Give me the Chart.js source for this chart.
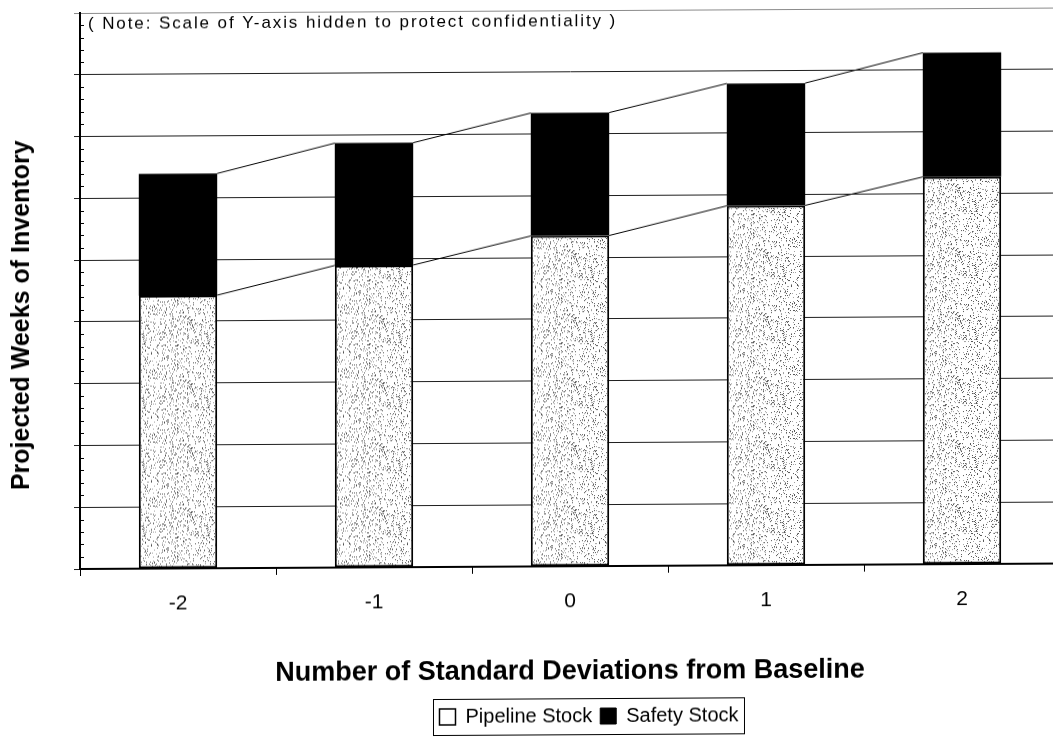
<!DOCTYPE html>
<html>
<head>
<meta charset="utf-8">
<script src="https://cdn.jsdelivr.net/npm/chart.js@4.4.1/dist/chart.umd.min.js"></script>
<style>
  html, body { margin: 0; padding: 0; background: #fff; overflow: hidden; }
  #wrap { width: 1053px; height: 739px; overflow: hidden; position: relative; }
  canvas { position: absolute; left: 0; top: 0; transform: skewY(-0.32deg); transform-origin: 80px 571px; }
</style>
</head>
<body>
<div id="wrap"><canvas id="chart" width="1070" height="739"></canvas></div>
<script>
// Categories: standard deviations away from the baseline forecast
const categories = ['-2', '-1', '0', '1', '2'];
// Stacked inventory components (weeks, unscaled units)
const pipelineStock = [4.42, 4.89, 5.35, 5.82, 6.27];
const safetyStock = [1.97, 1.98, 1.99, 1.98, 2.01];
// Value axis range (tick labels are intentionally hidden)
const yMin = 0;
const yMax = 9;
const yStep = 1;

const noteText = '( Note: Scale of Y-axis hidden to protect confidentiality )';
const yTitle = 'Projected Weeks of Inventory';
const xTitle = 'Number of Standard Deviations from Baseline';
const seriesNames = ['Pipeline Stock', 'Safety Stock'];

const FONT = "'Liberation Sans', Arial, Helvetica, sans-serif";
Chart.defaults.font.family = FONT;
Chart.defaults.color = '#000';

const canvas = document.getElementById('chart');
const ctx = canvas.getContext('2d');

// Grey speckle texture for the pipeline bars
function makeStipple() {
  const c = document.createElement('canvas');
  c.width = 64; c.height = 64;
  const g = c.getContext('2d');
  g.fillStyle = '#ffffff';
  g.fillRect(0, 0, 64, 64);
  for (let y = 0; y < 64; y++) {
    for (let x = 0; x < 64; x++) {
      const h = Math.abs(Math.sin(x * 12.9898 + y * 78.233) * 43758.5453) % 1;
      if (h < 0.07) { g.fillStyle = '#555555'; g.fillRect(x, y, 1, 1); }
      else if (h < 0.14) { g.fillStyle = '#a0a0a0'; g.fillRect(x, y, 1, 1); }
    }
  }
  return ctx.createPattern(c, 'repeat');
}
const stipple = makeStipple();

// Draws the note, minor ticks, series lines, rotated y title and legend frame
const decorations = {
  id: 'decorations',
  afterLayout(chart) {
    // move the legend a little to the right of the plot centre
    const lg = chart.legend;
    lg.left += 59; lg.right += 59;
  },
  beforeDatasetsDraw(chart) {
    const {ctx, chartArea, scales: {y}} = chart;
    ctx.save();
    ctx.strokeStyle = '#000';
    ctx.lineWidth = 1;
    for (let v = yMin; v < yMax; v += yStep) {
      for (let k = 1; k < 5; k++) {
        const py = Math.round(y.getPixelForValue(v + k * yStep / 5)) + 0.5;
        ctx.beginPath();
        ctx.moveTo(chartArea.left, py);
        ctx.lineTo(chartArea.left + 4, py);
        ctx.stroke();
      }
    }
    ctx.restore();
  },
  afterDatasetsDraw(chart) {
    const ctx = chart.ctx;
    ctx.save();
    ctx.strokeStyle = '#000';
    ctx.lineWidth = 1;
    chart.data.datasets.forEach((ds, i) => {
      const els = chart.getDatasetMeta(i).data;
      for (let k = 0; k < els.length - 1; k++) {
        const a = els[k], b = els[k + 1];
        ctx.beginPath();
        ctx.moveTo(a.x + a.width / 2, a.y);
        ctx.lineTo(b.x - b.width / 2, b.y);
        ctx.stroke();
      }
    });
    ctx.restore();
  },
  afterDraw(chart) {
    const {ctx, chartArea} = chart;
    ctx.save();
    // note inside the plot area
    ctx.fillStyle = '#000';
    ctx.font = '17px ' + FONT;
    ctx.textBaseline = 'middle';
    ctx.textAlign = 'left';
    if ('letterSpacing' in ctx) ctx.letterSpacing = '1.9px';
    ctx.fillText(noteText, chartArea.left + 8, chartArea.top + 11);
    if ('letterSpacing' in ctx) ctx.letterSpacing = '0px';
    // vertical axis title
    ctx.translate(22, 315);
    ctx.rotate(-Math.PI / 2);
    ctx.font = 'bold 25px ' + FONT;
    ctx.textAlign = 'center';
    ctx.fillText(yTitle, 0, 0);
    ctx.restore();
    // frame around the legend
    const lg = chart.legend;
    const hb = lg.legendHitBoxes;
    if (hb && hb.length) {
      const last = hb[hb.length - 1];
      const l = Math.round(hb[0].left - 6) + 0.5;
      const r = Math.round(last.left + last.width + 5) + 0.5;
      ctx.save();
      ctx.strokeStyle = '#000';
      ctx.lineWidth = 1;
      ctx.strokeRect(l, lg.top + 0.5, r - l, lg.bottom - lg.top - 2);
      ctx.restore();
    }
  }
};

new Chart(ctx, {
  type: 'bar',
  data: {
    labels: categories,
    datasets: [
      {
        label: seriesNames[0],
        data: pipelineStock,
        backgroundColor: stipple,
        borderColor: '#000',
        borderWidth: 2,
        borderSkipped: false
      },
      {
        label: seriesNames[1],
        data: safetyStock,
        backgroundColor: '#000',
        borderColor: '#000',
        borderWidth: 0
      }
    ]
  },
  options: {
    responsive: false,
    animation: false,
    devicePixelRatio: 1,
    layout: { padding: { top: 13, right: 10, bottom: 0, left: 0 } },
    datasets: { bar: { barPercentage: 0.4, categoryPercentage: 1.0 } },
    scales: {
      x: {
        stacked: true,
        offset: true,
        grid: {
          offset: true,
          drawOnChartArea: false,
          drawTicks: true,
          tickLength: 7,
          color: '#000',
          lineWidth: 1
        },
        border: { display: true, color: '#000', width: 2 },
        ticks: { font: { size: 21 }, color: '#000', padding: 16 },
        title: {
          display: true,
          text: xTitle,
          font: { size: 27, weight: 'bold' },
          color: '#000',
          padding: { top: 0, bottom: 10 }
        },
        afterFit(scale) { scale.height = 132; }
      },
      y: {
        stacked: true,
        min: yMin,
        max: yMax,
        ticks: { stepSize: yStep, display: false },
        grid: {
          drawTicks: true,
          tickLength: 6,
          lineWidth: 1,
          color: (c) => (c.tick && c.tick.value === yMax ? '#8a8a8a' : '#1e1e1e')
        },
        border: { display: true, color: '#000', width: 2 },
        title: { display: false },
        afterFit(scale) { scale.width = 80; }
      }
    },
    plugins: {
      tooltip: { enabled: false },
      legend: {
        position: 'bottom',
        labels: {
          font: { size: 20 },
          color: '#000',
          boxWidth: 16,
          boxHeight: 16,
          padding: 8,
          generateLabels() {
            return [
              { text: seriesNames[0], fillStyle: '#fff', strokeStyle: '#000', lineWidth: 1.5, hidden: false, datasetIndex: 0 },
              { text: seriesNames[1], fillStyle: '#000', strokeStyle: '#000', lineWidth: 1, hidden: false, datasetIndex: 1 }
            ];
          }
        }
      }
    }
  },
  plugins: [decorations]
});
</script>
</body>
</html>
